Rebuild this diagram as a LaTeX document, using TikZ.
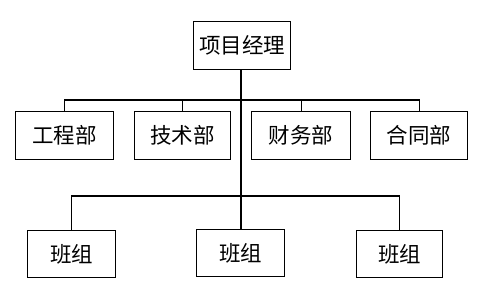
\documentclass[tikz,border=0pt]{standalone}
\usepackage{fontspec}
\newfontfamily\cjk{Noto Sans CJK SC}
\begin{document}
\begin{tikzpicture}[x=1pt,y=-1pt,
  box/.style={draw,line width=1.3pt,minimum height=48pt,inner sep=0pt,font=\cjk\fontsize{21.5}{23}\selectfont,anchor=north west},
  link/.style={line width=1.3pt}]
\useasboundingbox (0,0) rectangle (484,288);
\node[box,minimum width=97pt] (pm) at (193,21) {项目经理};
\node[box,minimum width=98pt] (d1) at (15,111) {工程部};
\node[box,minimum width=96pt] (d2) at (134,111) {技术部};
\node[box,minimum width=99pt] (d3) at (251,111) {财务部};
\node[box,minimum width=97pt] (d4) at (370,111) {合同部};
\node[box,minimum width=88pt,minimum height=47pt] (g1) at (27,230) {班组};
\node[box,minimum width=88pt,minimum height=47pt] (g2) at (196,229) {班组};
\node[box,minimum width=86pt,minimum height=47pt] (g3) at (356,230) {班组};
\coordinate (b1) at (241,100);
\coordinate (b2) at (241,196);
\draw[link] (pm.south -| b1) -- (g2.north -| b1);
\draw[link] (d1.north) -- (d1.north |- b1) -- (d4.north |- b1) -- (d4.north);
\draw[link] (d2.north) -- (d2.north |- b1);
\draw[link] (d3.north) -- (d3.north |- b1);
\draw[link] (g1.north) -- (g1.north |- b2) -- (g3.north |- b2) -- (g3.north);
\end{tikzpicture}
\end{document}
